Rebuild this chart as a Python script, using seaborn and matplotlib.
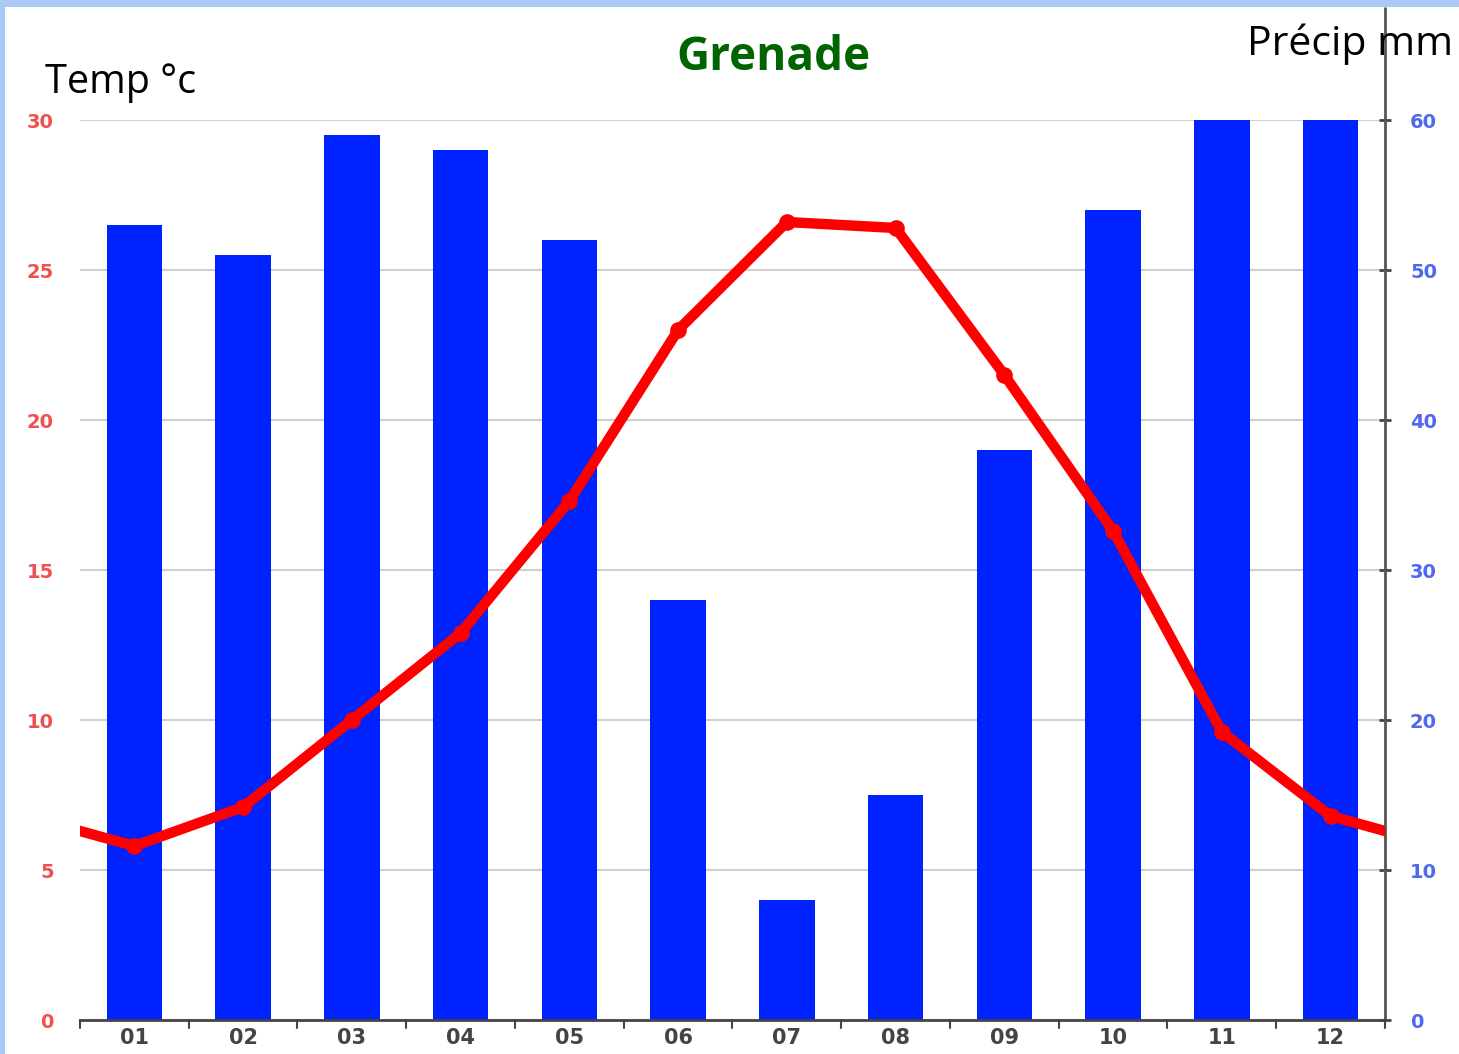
import numpy as np
import pandas as pd
import matplotlib
matplotlib.use("Agg")
import matplotlib.pyplot as plt
import seaborn as sns

sns.set_theme(style="white")
plt.rcParams["font.family"] = ["DejaVu Sans"]

# Climate normals for Granada
months = ["01", "02", "03", "04", "05", "06", "07", "08", "09", "10", "11", "12"]
temp_c = [5.8, 7.1, 10.0, 12.9, 17.3, 23.0, 26.6, 26.4, 21.5, 16.3, 9.6, 6.8]
precip_mm = [53, 51, 59, 58, 52, 28, 8, 15, 38, 54, 60, 60]

df = pd.DataFrame({"month": months, "temp": temp_c, "precip": precip_mm})

# the curve wraps round the year: Dec before Jan, Jan after Dec
wrap_x = [-1] + list(range(len(months))) + [len(months)]
wrap_t = [temp_c[-1]] + temp_c + [temp_c[0]]

fig = plt.figure(figsize=(14.59, 10.54), dpi=100)
fig.patch.set_facecolor("white")

# light blue frame along top and left edge
fig.add_artist(plt.Rectangle((0, 1 - 7 / 1054), 1, 7 / 1054, transform=fig.transFigure,
                             color="#abc9f5", lw=0))
fig.add_artist(plt.Rectangle((0, 0), 5 / 1459, 1, transform=fig.transFigure,
                             color="#abc9f5", lw=0))

ax = fig.add_axes([80 / 1459, 1 - 1020 / 1054, 1305 / 1459, 900 / 1054])
ax2 = ax.twinx()
ax.set_zorder(ax2.get_zorder() + 1)
ax.patch.set_visible(False)

# precipitation bars (right axis)
sns.barplot(data=df, x="month", y="precip", ax=ax2, color="#0022ff", saturation=1,
            width=0.51, linewidth=0, zorder=2)
ax2.set_ylim(0, 60)
ax2.set_yticks(range(0, 61, 10))
ax2.yaxis.grid(True, color="#d0d0d0", lw=1.5, zorder=0)
ax2.set_axisbelow(True)
ax2.set_ylabel("")
ax2.tick_params(axis="y", labelcolor="#5068f0", labelsize=14, length=8, width=2,
                direction="inout", pad=14, color="#444444")
for lbl in ax2.get_yticklabels():
    lbl.set_fontweight("bold")

# temperature line (left axis)
sns.lineplot(x=wrap_x, y=wrap_t, ax=ax, color="#ff0000", lw=7.5, marker="o",
             markersize=12, markeredgewidth=0, zorder=5)
ax.set_xlim(-0.5, len(months) - 0.5)
ax.set_ylim(0, 30)
ax.set_yticks(range(0, 31, 5))
ax.tick_params(axis="y", labelcolor="#f05050", labelsize=14, length=0, pad=19)
for lbl in ax.get_yticklabels():
    lbl.set_fontweight("bold")

ax.set_xticks(range(len(months)))
ax.set_xticklabels(months)
ax.tick_params(axis="x", labelcolor="#444444", labelsize=15, length=0, pad=6)
for lbl in ax.get_xticklabels():
    lbl.set_fontweight("bold")
ax2.tick_params(axis="x", length=0)
ax2.set_xlabel("")
ax.set_xlabel("")
ax.set_ylabel("")

# small ticks between months on the bottom axis
for b in np.arange(-0.5, len(months), 1.0):
    ax.plot([b, b], [0, -0.25], color="#444444", lw=1.5, clip_on=False, zorder=6)

for a in (ax, ax2):
    for s in ("top", "left", "right", "bottom"):
        a.spines[s].set_visible(False)
ax.spines["bottom"].set_visible(True)
ax.spines["bottom"].set_color("#444444")
ax.spines["bottom"].set_linewidth(2)

# right axis line runs up to the top of the picture
ax2.plot([1, 1], [0, 1.125], transform=ax2.transAxes, color="#555555", lw=2,
         clip_on=False, zorder=6)

fig.text(773 / 1459, 1 - 58 / 1054, "Grenade", ha="center", va="center",
         fontsize=33, fontweight="bold", color="#006400", family="Open Sans")
fig.text(45 / 1459, 1 - 83 / 1054, "Temp °c", ha="left", va="center",
         fontsize=28.5, color="black", family="Open Sans")
fig.text(1453 / 1459, 1 - 44 / 1054, "Précip mm", ha="right", va="center",
         fontsize=29.5, color="black", family="Open Sans")

fig.savefig("out.png", dpi=100, facecolor="white")
